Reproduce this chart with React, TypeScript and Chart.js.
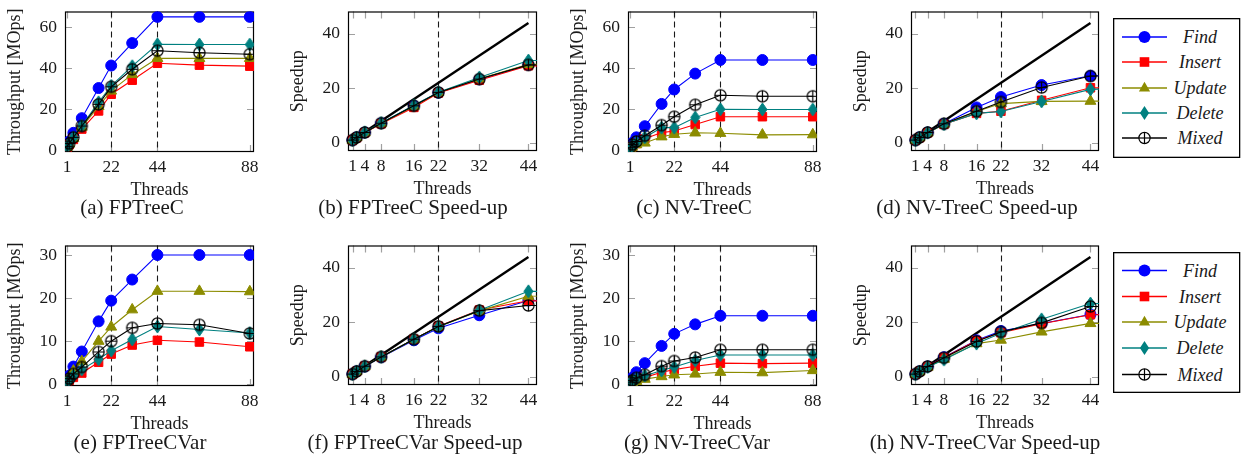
import React, { useEffect, useRef } from "react";
import { Chart, registerables } from "chart.js";
Chart.register(...registerables);

const FONT = "'Liberation Serif', 'Times New Roman', serif";
Chart.defaults.font.family = FONT;
Chart.defaults.color = "#1a1a1a";

const SERIES = ["Find", "Insert", "Update", "Delete", "Mixed"];
const COLORS = ["#0000ff", "#ff0000", "#8c8c00", "#008080", "#000000"];

// thread counts
const THREADS = [1, 2, 4, 8, 16, 22, 32, 44, 64, 88];
const SPEEDUP_THREADS = [1, 2, 4, 8, 16, 22, 32, 44, 64];
const THR_X_TICKS = [1, 22, 44, 88];
const SPD_X_TICKS = [1, 4, 8, 16, 22, 32, 44];
const THR_Y_TICKS_C = [0, 20, 40, 60];
const THR_Y_TICKS_VAR = [0, 10, 20, 30];
const SPD_Y_TICKS = [0, 20, 40];
const IDEAL_X = [1, 44];
const IDEAL_Y = [1, 44];

// (a) FPTreeC throughput [MOps]
const fpcFind = [2.0, 4.5, 8.7, 15.8, 30.4, 41.3, 52.2, 64.9, 64.9, 64.9];
const fpcInsert = [1.5, 3.0, 5.5, 10.5, 19.3, 27.4, 34.2, 42.4, 41.5, 41.0];
const fpcUpdate = [1.8, 3.3, 6.0, 11.5, 21.5, 29.0, 37.0, 44.8, 44.8, 44.8];
const fpcDelete = [2.0, 3.5, 6.5, 12.2, 23.5, 31.5, 41.0, 51.6, 51.5, 51.5];
const fpcMixed = [2.0, 3.5, 6.5, 12.0, 22.5, 31.0, 39.5, 48.5, 47.5, 46.8];

// (b) FPTreeC speed-up
const fpcSpFind = [1, 2, 3.8, 7.2, 13.6, 18.4, 23.3, 28.6, 28.6];
const fpcSpInsert = [1, 1.9, 3.7, 7.0, 13.0, 18.3, 23.0, 28.3, 27.8];
const fpcSpUpdate = [1, 2, 3.8, 7.2, 13.5, 18.5, 23.5, 28.8, 28.8];
const fpcSpDelete = [1, 2, 3.9, 7.3, 13.8, 18.6, 24.0, 30.2, 30.2];
const fpcSpMixed = [1, 2, 3.8, 7.2, 13.6, 18.5, 23.4, 28.6, 28.2];

// (c) NV-TreeC throughput
const nvcFind = [1.8, 3.8, 6.5, 11.9, 22.7, 29.7, 37.4, 44.0, 44.0, 44.0];
const nvcInsert = [1.0, 2.0, 3.5, 5.8, 8.8, 9.6, 12.7, 16.5, 16.5, 16.5];
const nvcUpdate = [0.9, 1.8, 3.0, 3.8, 6.8, 8.0, 8.7, 8.5, 7.7, 7.8];
const nvcDelete = [1.2, 2.5, 4.0, 6.5, 11.2, 11.2, 16.1, 20.1, 20.0, 20.0];
const nvcMixed = [1.5, 3.0, 4.5, 7.3, 12.4, 16.5, 22.3, 26.9, 26.4, 26.4];

// (d) NV-TreeC speed-up
const nvcSpFind = [1, 2, 3.8, 7.0, 13.0, 16.8, 21.2, 24.6, 24.6];
const nvcSpInsert = [1, 1.9, 3.7, 6.8, 10.8, 11.6, 15.6, 20.2, 20.5];
const nvcSpUpdate = [1, 1.9, 3.7, 6.9, 11.5, 14.4, 15.2, 15.3, 15.2];
const nvcSpDelete = [1, 1.9, 3.7, 6.8, 10.8, 11.5, 15.2, 19.6, 20.0];
const nvcSpMixed = [1, 2, 3.8, 7.0, 11.6, 15.0, 20.3, 24.5, 24.5];

// (e) FPTreeCVar throughput
const fpvFind = [1.1, 2.0, 4.1, 7.6, 14.6, 19.4, 24.3, 30.0, 30.0, 30.0];
const fpvInsert = [0.4, 0.9, 1.6, 2.6, 5.1, 7.0, 9.1, 10.2, 9.8, 8.7];
const fpvUpdate = [0.8, 1.6, 3.1, 5.3, 10.0, 13.3, 17.3, 21.6, 21.6, 21.5];
const fpvDelete = [0.5, 1.0, 2.0, 3.4, 5.8, 7.8, 10.4, 13.4, 12.7, 11.9];
const fpvMixed = [0.7, 1.3, 2.4, 4.0, 7.5, 10.0, 13.1, 14.1, 13.8, 11.8];

// (f) FPTreeCVar speed-up
const fpvSpFind = [1, 2, 3.8, 7.2, 13.4, 17.8, 22.6, 28.0, 28.0];
const fpvSpInsert = [1, 2, 3.9, 7.3, 13.8, 18.6, 24.5, 27.9, 27.5];
const fpvSpUpdate = [1, 2, 3.9, 7.3, 13.8, 18.4, 24.2, 29.6, 30.2];
const fpvSpDelete = [1, 2, 3.9, 7.3, 13.8, 18.4, 24.4, 31.4, 31.2];
const fpvSpMixed = [1, 2, 3.9, 7.3, 13.8, 18.5, 24.3, 26.2, 26.0];

// (g) NV-TreeCVar throughput
const nvvFind = [0.8, 1.5, 2.8, 4.9, 8.9, 11.7, 13.9, 15.9, 15.9, 15.9];
const nvvInsert = [0.3, 0.6, 1.0, 1.6, 2.8, 3.4, 4.2, 4.9, 4.8, 4.9];
const nvvUpdate = [0.2, 0.4, 0.7, 1.2, 1.8, 2.2, 2.4, 2.8, 2.7, 3.2];
const nvvDelete = [0.4, 0.8, 1.3, 2.0, 3.2, 4.0, 5.5, 6.8, 6.8, 6.8];
const nvvMixed = [0.5, 0.9, 1.5, 2.2, 4.2, 5.4, 6.2, 8.0, 8.0, 8.0];

// (h) NV-TreeCVar speed-up
const nvvSpFind = [1, 2, 3.8, 7.2, 13.4, 16.8, 19.6, 22.9, 22.9];
const nvvSpInsert = [1, 2, 3.8, 7.1, 13.3, 16.2, 19.5, 22.8, 22.6];
const nvvSpUpdate = [1, 1.9, 3.6, 6.5, 12.2, 13.5, 16.5, 19.6, 19.8];
const nvvSpDelete = [1, 1.9, 3.6, 6.3, 12.2, 16.0, 21.1, 26.9, 27.0];
const nvvSpMixed = [1, 2, 3.8, 7.0, 13.0, 16.5, 19.8, 25.8, 25.8];

type Kind = "thr" | "spd";
interface PanelDef {
  L: number; T: number; R: number; B: number;
  kind: Kind;
  yMin: number; yMax: number; yTicks: number[];
  values: number[][];
  caption: string; cx: number; cy: number;
}

const AW = 66; // y-axis box width
const PT = 12; // top padding
const PR = 14; // right padding
const XH = 51; // x-axis box height

const PANELS: PanelDef[] = [
  { L: 65, T: 5, R: 254, B: 152, kind: "thr", yMin: -0.6, yMax: 67.5, yTicks: THR_Y_TICKS_C,
    values: [fpcFind, fpcInsert, fpcUpdate, fpcDelete, fpcMixed], caption: "(a) FPTreeC", cx: 132, cy: 208 },
  { L: 348, T: 5, R: 537, B: 151, kind: "spd", yMin: -3, yMax: 48.2, yTicks: SPD_Y_TICKS,
    values: [fpcSpFind, fpcSpInsert, fpcSpUpdate, fpcSpDelete, fpcSpMixed], caption: "(b) FPTreeC Speed-up", cx: 413, cy: 208 },
  { L: 628, T: 5, R: 817, B: 152, kind: "thr", yMin: -0.6, yMax: 67.5, yTicks: THR_Y_TICKS_C,
    values: [nvcFind, nvcInsert, nvcUpdate, nvcDelete, nvcMixed], caption: "(c) NV-TreeC", cx: 694, cy: 208 },
  { L: 911, T: 5, R: 1099, B: 151, kind: "spd", yMin: -3, yMax: 48.2, yTicks: SPD_Y_TICKS,
    values: [nvcSpFind, nvcSpInsert, nvcSpUpdate, nvcSpDelete, nvcSpMixed], caption: "(d) NV-TreeC Speed-up", cx: 977, cy: 208 },
  { L: 65, T: 239, R: 254, B: 386, kind: "thr", yMin: -0.4, yMax: 32.2, yTicks: THR_Y_TICKS_VAR,
    values: [fpvFind, fpvInsert, fpvUpdate, fpvDelete, fpvMixed], caption: "(e) FPTreeCVar", cx: 140, cy: 443 },
  { L: 348, T: 239, R: 537, B: 385, kind: "spd", yMin: -3, yMax: 48.2, yTicks: SPD_Y_TICKS,
    values: [fpvSpFind, fpvSpInsert, fpvSpUpdate, fpvSpDelete, fpvSpMixed], caption: "(f) FPTreeCVar Speed-up", cx: 415, cy: 443 },
  { L: 628, T: 239, R: 817, B: 386, kind: "thr", yMin: -0.4, yMax: 32.2, yTicks: THR_Y_TICKS_VAR,
    values: [nvvFind, nvvInsert, nvvUpdate, nvvDelete, nvvMixed], caption: "(g) NV-TreeCVar", cx: 697, cy: 443 },
  { L: 911, T: 239, R: 1099, B: 385, kind: "spd", yMin: -3, yMax: 48.2, yTicks: SPD_Y_TICKS,
    values: [nvvSpFind, nvvSpInsert, nvvSpUpdate, nvvSpDelete, nvvSpMixed], caption: "(h) NV-TreeCVar Speed-up", cx: 985, cy: 443 },
];

function makeDiamond(color: string) {
  const c = document.createElement("canvas");
  c.width = 11; c.height = 15;
  const g = c.getContext("2d")!;
  g.beginPath();
  g.moveTo(5.5, 1); g.lineTo(10, 7.5); g.lineTo(5.5, 14); g.lineTo(1, 7.5); g.closePath();
  g.fillStyle = color; g.strokeStyle = color; g.lineWidth = 1;
  g.fill(); g.stroke();
  return c;
}
function makeOplus() {
  const c = document.createElement("canvas");
  c.width = 15; c.height = 15;
  const g = c.getContext("2d")!;
  g.strokeStyle = "#000"; g.lineWidth = 1.2;
  g.beginPath(); g.arc(7.5, 7.5, 5.6, 0, Math.PI * 2); g.stroke();
  g.beginPath(); g.moveTo(1.9, 7.5); g.lineTo(13.1, 7.5); g.moveTo(7.5, 1.9); g.lineTo(7.5, 13.1); g.stroke();
  return c;
}

const framePlugin = {
  id: "pgfFrame",
  beforeDatasetsDraw(chart: any, _args: any, opts: any) {
    const { ctx, chartArea, scales } = chart;
    const { left, top, right, bottom } = chartArea;
    const x = scales.x, y = scales.y;
    ctx.save();
    ctx.strokeStyle = "#a0a0a0";
    ctx.lineWidth = 1.2;
    const tl = 7;
    ctx.beginPath();
    for (const v of opts.xTicks) {
      const px = Math.round(x.getPixelForValue(v)) + 0.5;
      ctx.moveTo(px, bottom); ctx.lineTo(px, bottom - tl);
      ctx.moveTo(px, top); ctx.lineTo(px, top + tl);
    }
    for (const v of opts.yTicks) {
      const py = Math.round(y.getPixelForValue(v)) + 0.5;
      ctx.moveTo(left, py); ctx.lineTo(left + tl, py);
      ctx.moveTo(right, py); ctx.lineTo(right - tl, py);
    }
    ctx.stroke();
    ctx.strokeStyle = "#1a1a1a";
    ctx.lineWidth = 1.1;
    ctx.setLineDash([6, 4]);
    ctx.beginPath();
    for (const v of opts.dashed) {
      const px = Math.round(x.getPixelForValue(v)) + 0.5;
      ctx.moveTo(px, top); ctx.lineTo(px, bottom);
    }
    ctx.stroke();
    ctx.setLineDash([]);
    ctx.strokeStyle = "#000";
    ctx.lineWidth = 1.2;
    ctx.strokeRect(left + 0.5, top + 0.5, right - left - 1, bottom - top - 1);
    ctx.restore();
  },
};

function PanelChart({ p }: { p: PanelDef }) {
  const ref = useRef<HTMLCanvasElement>(null);
  const W = p.R - p.L + AW + PR;
  const H = p.B - p.T + PT + XH;
  useEffect(() => {
    const isThr = p.kind === "thr";
    const xs = isThr ? THREADS : SPEEDUP_THREADS;
    const xTicks = isThr ? THR_X_TICKS : SPD_X_TICKS;
    const styles: any[] = ["circle", "rect", "triangle", makeDiamond(COLORS[3]), makeOplus()];
    const radii = [5.5, 6, 6.3, 5, 5];
    const datasets: any[] = SERIES.map((name, i) => ({
      label: name,
      data: xs.map((x, j) => ({ x, y: p.values[i][j] })),
      borderColor: COLORS[i],
      backgroundColor: COLORS[i],
      borderWidth: 1.1,
      pointStyle: styles[i],
      pointRadius: radii[i],
      pointBorderWidth: 1,
      pointBorderColor: COLORS[i],
      pointBackgroundColor: COLORS[i],
      tension: 0,
      order: 5 - i,
      ...(isThr ? {} : { clip: { left: 8, top: 8, right: 0, bottom: 8 } }),
    }));
    if (!isThr) {
      datasets.push({
        label: "Ideal",
        data: IDEAL_X.map((x, j) => ({ x, y: IDEAL_Y[j] })),
        borderColor: "#000",
        borderWidth: 2.4,
        pointRadius: 0,
        order: 10,
        clip: { left: 8, top: 8, right: 0, bottom: 8 },
      });
    }
    const chart = new Chart(ref.current!, {
      type: "line",
      data: { datasets },
      plugins: [framePlugin as any],
      options: {
        animation: false,
        responsive: false,
        devicePixelRatio: 1,
        layout: { padding: { top: PT, right: PR, left: 0, bottom: 0 } },
        plugins: {
          legend: { display: false },
          tooltip: { enabled: false },
          pgfFrame: { xTicks, yTicks: p.yTicks, dashed: isThr ? [22, 44] : [22] },
        } as any,
        scales: {
          x: {
            type: "linear",
            min: isThr ? 0 : -0.1,
            max: isThr ? 90 : 46.1,
            afterBuildTicks: (s: any) => { s.ticks = xTicks.map((v) => ({ value: v })); },
            afterFit: (s: any) => { s.height = XH; },
            grid: { display: false, drawTicks: false, tickLength: 0 },
            border: { display: false },
            ticks: { autoSkip: false, maxRotation: 0, minRotation: 0, padding: 5, font: { size: 17.5 }, color: "#1a1a1a", callback: (v: any) => String(v) },
            title: { display: true, text: "Threads", font: { size: 18 }, color: "#1a1a1a", padding: { top: 0, bottom: 2 } },
          },
          y: {
            type: "linear",
            min: p.yMin,
            max: p.yMax,
            afterBuildTicks: (s: any) => { s.ticks = p.yTicks.map((v) => ({ value: v })); },
            afterFit: (s: any) => { s.width = AW; },
            grid: { display: false, drawTicks: false, tickLength: 0 },
            border: { display: false },
            ticks: { autoSkip: false, padding: 8, font: { size: 17.5 }, color: "#1a1a1a", callback: (v: any) => String(v) },
            title: { display: true, text: isThr ? "Throughput [MOps]" : "Speedup", font: { size: 18 }, color: "#1a1a1a", padding: { top: 5, bottom: 0 } },
          },
        },
      } as any,
    });
    return () => chart.destroy();
  }, []);
  return (
    <canvas
      ref={ref}
      width={W}
      height={H}
      style={{ position: "absolute", left: p.L - AW, top: p.T - PT, width: W, height: H }}
    />
  );
}

function Marker({ i, cx, cy }: { i: number; cx: number; cy: number }) {
  const c = COLORS[i];
  if (i === 0) return <circle cx={cx} cy={cy} r={6} fill={c} />;
  if (i === 1) return <rect x={cx - 4.8} y={cy - 4.8} width={9.6} height={9.6} fill={c} />;
  if (i === 2) return <polygon points={`${cx},${cy - 6.3} ${cx + 5.6},${cy + 3.4} ${cx - 5.6},${cy + 3.4}`} fill={c} />;
  if (i === 3) return <polygon points={`${cx},${cy - 7} ${cx + 4.6},${cy} ${cx},${cy + 7} ${cx - 4.6},${cy}`} fill={c} />;
  return (
    <g stroke="#000" strokeWidth={1.2} fill="#fff">
      <circle cx={cx} cy={cy} r={5.6} />
      <line x1={cx - 5.6} x2={cx + 5.6} y1={cy} y2={cy} />
      <line x1={cx} x2={cx} y1={cy - 5.6} y2={cy + 5.6} />
    </g>
  );
}

function Legend({ top, height, rows }: { top: number; height: number; rows: number[] }) {
  return (
    <svg
      width={128}
      height={height}
      style={{ position: "absolute", left: 1113, top, overflow: "visible" }}
    >
      <rect x={0.65} y={0.65} width={126} height={height - 1.3} fill="#fff" stroke="#000" strokeWidth={1.3} />
      {SERIES.map((name, i) => (
        <g key={name}>
          <line x1={9} x2={54} y1={rows[i]} y2={rows[i]} stroke={COLORS[i]} strokeWidth={1.3} />
          <Marker i={i} cx={31.5} cy={rows[i]} />
          <text
            x={87}
            y={rows[i]}
            dominantBaseline="central"
            textAnchor="middle"
            fontStyle="italic"
            fontSize={18}
            fontFamily={FONT}
            fill="#1a1a1a"
          >
            {name}
          </text>
        </g>
      ))}
    </svg>
  );
}

export default function App() {
  return (
    <div
      style={{
        position: "absolute",
        left: 0,
        top: 0,
        width: 1241,
        height: 464,
        background: "#fff",
        overflow: "hidden",
      }}
    >
      {PANELS.map((p, i) => (
        <PanelChart key={i} p={p} />
      ))}
      {PANELS.map((p, i) => (
        <div
          key={"c" + i}
          style={{
            position: "absolute",
            left: p.cx - 150,
            top: p.cy - 13,
            width: 300,
            height: 24,
            lineHeight: "24px",
            textAlign: "center",
            fontFamily: FONT,
            fontSize: 21,
            color: "#1a1a1a",
            whiteSpace: "nowrap",
          }}
        >
          {p.caption}
        </div>
      ))}
      <Legend top={18} height={140} rows={[19, 44, 70, 95, 120]} />
      <Legend top={252} height={141} rows={[18.5, 44.5, 70, 96, 122.5]} />
    </div>
  );
}
